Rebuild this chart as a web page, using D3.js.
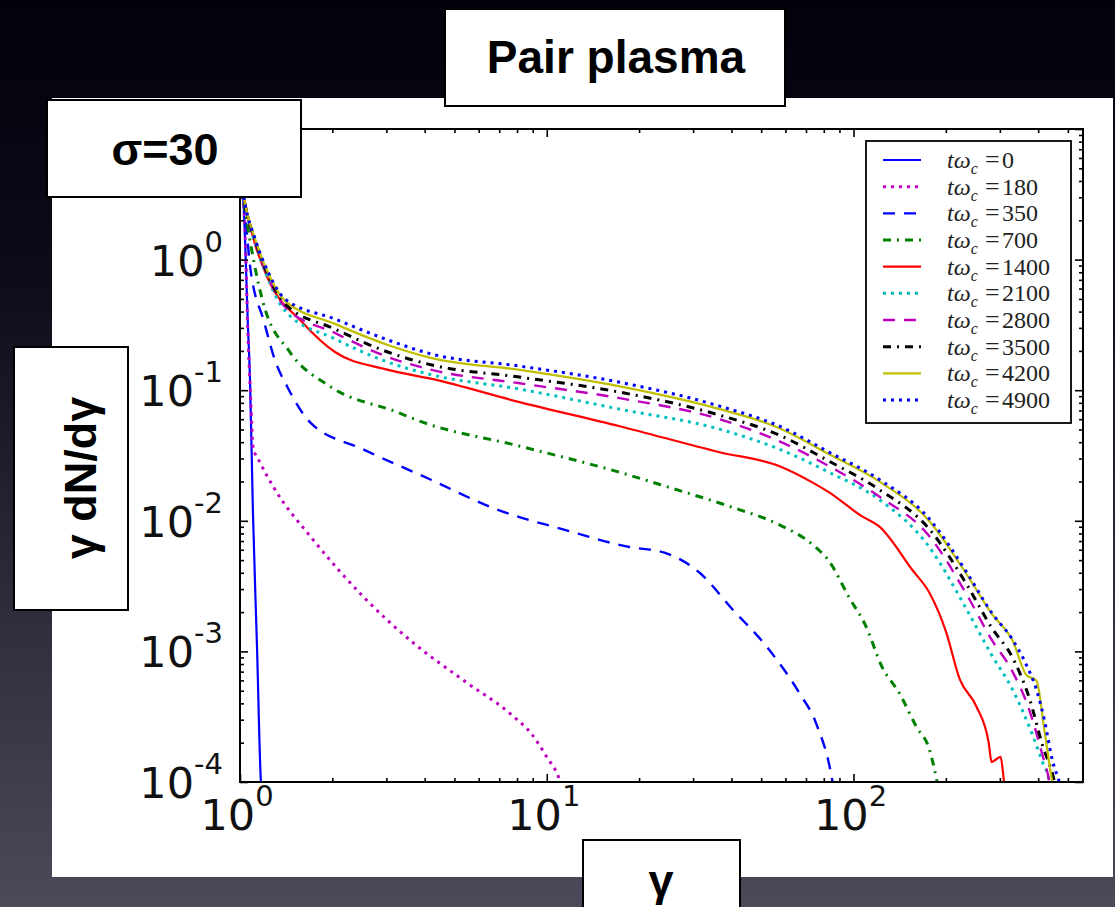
<!DOCTYPE html>
<html>
<head>
<meta charset="utf-8">
<script src="https://cdn.jsdelivr.net/npm/d3@7"></script>
<style>
  html, body { margin: 0; padding: 0; background: #000; }
  svg { display: block; }
</style>
</head>
<body>
<div id="chart"></div>
<script>
// legend labels (t omega_c) and line styles, in plotting order
const times  = [0, 180, 350, 700, 1400, 2100, 2800, 3500, 4200, 4900];
const colors = ["#0000ff", "#bf00bf", "#0000ff", "#008000", "#ff0000",
                "#00bfbf", "#bf00bf", "#000000", "#bfbf00", "#0000ff"];
const styles = ["solid", "dotted", "dashed", "dashdot", "solid",
                "dotted", "dashed", "dashdot", "solid", "dotted"];

// spectra as [gamma, gamma dN/dgamma]
const s0 = [[1.01,4],[1.025,2.9],[1.062,0.3],[1.078,0.12],[1.102,0.0116],[1.136,0.0011],[1.17,1e-4],[1.18,8e-5]];
const s1 = [[1.01,4],[1.04,1.5],[1.06,0.3],[1.085,0.08],[1.102,0.037],[1.162,0.028],[1.281,0.0184],[1.728,0.0072],
            [2.52,0.00263],[3.66,0.00117],[5.32,6.06e-4],[7.76,3.2e-4],[8.9,2.35e-4],[9.99,1.56e-4],[11.0,1.04e-4],[11.3,8.4e-5]];
const s2 = [[1.01,4],[1.04,2.2],[1.078,0.9],[1.2,0.33],[1.3,0.17],[1.43,0.105],[1.69,0.057],[2.52,0.0353],[4.16,0.0208],
            [6.87,0.0122],[11.3,0.0086],[18.6,0.0063],[24.2,0.0057],[31.5,0.0040],[40.3,0.0021],[51.9,0.0011],
            [66.6,4.8e-4],[75.6,2.8e-4],[85.2,1.04e-4],[86.5,8.4e-5]];
const s3 = [[1.01,4],[1.04,2.4],[1.11,0.96],[1.188,0.474],[1.454,0.196],[1.963,0.107],[3.25,0.068],[3.85,0.058],
            [8.16,0.0373],[17.3,0.0235],[25.1,0.018],[39.4,0.0129],[57.4,0.0093],[73.4,0.0066],[83.3,0.0049],
            [96.7,0.0026],[109.9,0.00155],[123.9,7.6e-4],[141,4.8e-4],[160.4,2.64e-4],[177,1.76e-4],[186.7,1.04e-4],[190,8.4e-5]];
const s4 = [[1.01,4],[1.038,2.68],[1.119,1.32],[1.234,0.713],[1.592,0.333],[2.04,0.196],[2.97,0.145],[4.22,0.122],
            [8.16,0.0811],[17.3,0.053],[36.6,0.0335],[57.4,0.0262],[73.4,0.0197],[83.3,0.0165],[106.7,0.0108],
            [121,0.0091],[155.6,0.0042],[177,0.0028],[200.6,0.0014],[221.6,6.2e-4],[251.8,3.77e-4],[276,1.99e-4],
            [282,1.42e-4],[301.6,1.56e-4],[309,1.04e-4],[312,8.4e-5]];
const s5 = [[1.01,4],[1.038,2.68],[1.119,1.37],[1.234,0.713],[1.402,0.405],[2.04,0.247],[2.97,0.167],[4.22,0.131],
            [8.16,0.102],[17.3,0.0716],[36.6,0.0503],[57.4,0.0353],[83.3,0.0235],[121,0.0146],[177,0.00625],
            [234,0.00209],[282,9.4e-4],[330,5.1e-4],[383,2.3e-4],[413,1.42e-4],[435,1e-4],[440,8.4e-5]];
const s6 = [[1.01,4],[1.038,2.68],[1.119,1.393],[1.234,0.738],[1.402,0.434],[2.04,0.274],[2.97,0.183],[4.22,0.143],
            [8.16,0.113],[17.3,0.0869],[36.6,0.06],[57.4,0.0406],[83.3,0.0262],[121,0.0154],[177,0.00759],
            [234,0.00272],[282,0.00123],[330,7.0e-4],[374,3.57e-4],[413,1.61e-4],[435,1e-4],[440,8.4e-5]];
const s7 = [[1.01,4],[1.038,2.68],[1.119,1.419],[1.234,0.764],[1.402,0.458],[2.04,0.294],[2.97,0.1995],[4.22,0.156],
            [8.16,0.126],[17.3,0.0966],[36.6,0.0644],[57.4,0.0452],[83.3,0.0286],[121,0.0174],[177,0.00859],
            [234,0.00325],[282,0.00152],[330,8.95e-4],[374,4.41e-4],[413,1.92e-4],[452,1e-4],[459,8.4e-5]];
const s8 = [[1.01,4],[1.038,2.68],[1.119,1.445],[1.234,0.792],[1.402,0.483],[2.04,0.322],[2.97,0.226],[4.22,0.176],
            [8.16,0.143],[17.3,0.107],[36.6,0.0716],[57.4,0.0512],[83.3,0.0323],[121,0.0201],[177,0.00989],
            [234,0.00388],[282,0.00195],[330,0.00121],[366,6.6e-4],[395,5.96e-4],[419,2.51e-4],[445,1e-4],[452,8.4e-5]];
const s9 = [[1.01,4],[1.038,2.68],[1.119,1.445],[1.234,0.806],[1.402,0.5],[2.04,0.351],[2.97,0.247],[4.22,0.189],
            [8.16,0.153],[17.3,0.115],[36.6,0.0755],[57.4,0.053],[83.3,0.0335],[121,0.0208],[177,0.0103],
            [234,0.00402],[282,0.00198],[330,0.00123],[366,7.9e-4],[395,5.08e-4],[419,2.99e-4],[445,1.47e-4],
            [469,1e-4],[480,8.4e-5]];
const series = [s0, s1, s2, s3, s4, s5, s6, s7, s8, s9];

// axis ticks; the 10^1 label sits under the sigma box, so it is not printed
const xTicks = [1, 10, 100];
const yTicks = [1e-4, 1e-3, 1e-2, 1e-1, 1, 10];
const yLabels = [1e-4, 1e-3, 1e-2, 1e-1, 1];

const W = 1115, H = 907;
const m = {left: 240, right: 1083, top: 129, bottom: 782};

const svg = d3.select("#chart").append("svg")
    .attr("width", W)
    .attr("height", H);

// slide background
const defs = svg.append("defs");
const grad = defs.append("linearGradient")
    .attr("id", "bg").attr("x1", 0).attr("y1", 0).attr("x2", 0).attr("y2", 1);
grad.append("stop").attr("offset", "0%").attr("stop-color", "#02020b");
grad.append("stop").attr("offset", "30%").attr("stop-color", "#0b0b1a");
grad.append("stop").attr("offset", "100%").attr("stop-color", "#4a4a5a");
svg.append("rect").attr("width", W).attr("height", H).attr("fill", "url(#bg)");

// white figure panel
svg.append("rect")
    .attr("x", 52).attr("y", 98)
    .attr("width", 1061).attr("height", 779)
    .attr("fill", "#fff");

const x = d3.scaleLog().domain([1, 560]).range([m.left, m.right]);
const y = d3.scaleLog().domain([1e-4, 10]).range([m.bottom, m.top]);

defs.append("clipPath").attr("id", "plot")
  .append("rect")
    .attr("x", m.left).attr("y", m.top)
    .attr("width", m.right - m.left).attr("height", m.bottom - m.top);

const dash = {solid: null, dotted: "3,5", dashed: "12,9", dashdot: "8,6,2,6"};
const widths = {solid: 2.2, dotted: 3, dashed: 2.4, dashdot: 3};

const line = d3.line()
    .x(d => x(d[0]))
    .y(d => y(d[1]))
    .curve(d3.curveMonotoneX);

svg.append("g")
    .attr("clip-path", "url(#plot)")
  .selectAll("path")
  .data(series)
  .join("path")
    .attr("d", line)
    .attr("fill", "none")
    .attr("stroke", (d, i) => colors[i])
    .attr("stroke-width", (d, i) => widths[styles[i]])
    .attr("stroke-dasharray", (d, i) => dash[styles[i]]);

// minor ticks between the decades
const xMinor = [], yMinor = [];
for (let e = 0; e <= 2; e++)
  for (let k = 2; k <= 9; k++) if (k * 10 ** e <= 560) xMinor.push(k * 10 ** e);
for (let e = -4; e < 1; e++)
  for (let k = 2; k <= 9; k++) yMinor.push(k * 10 ** e);

function tickAxis(gen, tx, ty) {
  svg.append("g")
      .attr("transform", `translate(${tx},${ty})`)
      .call(gen)
      .call(g => g.select(".domain").remove())
      .call(g => g.selectAll(".tick line").attr("stroke", "#000").attr("stroke-width", 1.6));
}
tickAxis(d3.axisBottom(x).tickValues(xTicks).tickSize(-8).tickFormat(""), 0, m.bottom);
tickAxis(d3.axisBottom(x).tickValues(xMinor).tickSize(-4).tickFormat(""), 0, m.bottom);
tickAxis(d3.axisTop(x).tickValues(xTicks).tickSize(-8).tickFormat(""), 0, m.top);
tickAxis(d3.axisTop(x).tickValues(xMinor).tickSize(-4).tickFormat(""), 0, m.top);
tickAxis(d3.axisLeft(y).tickValues(yTicks).tickSize(-8).tickFormat(""), m.left, 0);
tickAxis(d3.axisLeft(y).tickValues(yMinor).tickSize(-4).tickFormat(""), m.left, 0);
tickAxis(d3.axisRight(y).tickValues(yTicks).tickSize(-8).tickFormat(""), m.right, 0);
tickAxis(d3.axisRight(y).tickValues(yMinor).tickSize(-4).tickFormat(""), m.right, 0);

// frame
svg.append("rect")
    .attr("x", m.left).attr("y", m.top)
    .attr("width", m.right - m.left).attr("height", m.bottom - m.top)
    .attr("fill", "none").attr("stroke", "#000").attr("stroke-width", 2);

// tick labels 10^n
function powerLabel(sel) {
  sel.each(function(d) {
    const t = d3.select(this);
    t.append("tspan").text("10");
    t.append("tspan").attr("dy", -24).attr("font-size", 29).text(Math.round(Math.log10(d)));
  });
}
svg.append("g")
    .attr("font-family", "DejaVu Sans, sans-serif").attr("font-size", 43).attr("fill", "#111")
  .selectAll("text").data(xTicks).join("text")
    .attr("x", d => x(d) - 3).attr("y", m.bottom + 48)
    .attr("text-anchor", "middle")
    .call(powerLabel);
svg.append("g")
    .attr("font-family", "DejaVu Sans, sans-serif").attr("font-size", 43).attr("fill", "#111")
  .selectAll("text").data(yLabels).join("text")
    .attr("x", m.left - 17).attr("y", d => y(d) + 16)
    .attr("text-anchor", "end")
    .call(powerLabel);

// legend
const lg = svg.append("g");
lg.append("rect")
    .attr("x", 866).attr("y", 141).attr("width", 205).attr("height", 282)
    .attr("fill", "#fff").attr("stroke", "#000").attr("stroke-width", 1.8);
const rows = lg.selectAll("g.row").data(times).join("g")
    .attr("class", "row")
    .attr("transform", (d, i) => `translate(0,${160 + i * 26.67})`);
rows.append("line")
    .attr("x1", 883).attr("x2", 921)
    .attr("stroke", (d, i) => colors[i])
    .attr("stroke-width", (d, i) => widths[styles[i]])
    .attr("stroke-dasharray", (d, i) => dash[styles[i]]);
const lt = rows.append("text")
    .attr("y", 8)
    .attr("font-family", "Liberation Serif, serif").attr("font-size", 24).attr("fill", "#222");
lt.append("tspan").attr("x", 947).attr("font-style", "italic").text("tω");
lt.append("tspan").attr("font-style", "italic").attr("font-size", 16).attr("dy", 6).text("c");
lt.append("tspan").attr("x", 985).attr("dy", -6).attr("font-size", 26).text("=");
lt.append("tspan").attr("x", 1002).text(d => d);

// slide annotation boxes
function box(x0, y0, w, h) {
  svg.append("rect")
      .attr("x", x0).attr("y", y0).attr("width", w).attr("height", h)
      .attr("fill", "#fff").attr("stroke", "#000").attr("stroke-width", 2);
}
box(445, 9, 340, 97);
box(47, 100, 254, 97);
box(14, 347, 114, 263);
box(583, 840, 157, 80);

const texts = svg.append("g")
    .attr("font-family", "Liberation Sans, Arial, sans-serif")
    .attr("font-weight", "bold").attr("font-size", 45).attr("fill", "#000")
    .attr("text-anchor", "middle");
texts.append("text").attr("x", 616).attr("y", 73).attr("font-size", 46).text("Pair plasma");
texts.append("text").attr("x", 165).attr("y", 165).text("σ=30");
texts.append("text").attr("transform", "translate(96,478) rotate(-90)").text("γ dN/dγ");
texts.append("text").attr("x", 661).attr("y", 896).text("γ");
</script>
</body>
</html>
